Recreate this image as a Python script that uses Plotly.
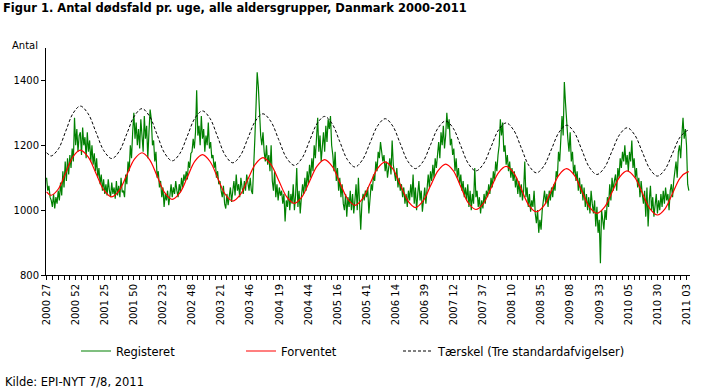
import plotly.graph_objects as go

# Weekly registered deaths, week 2000 27 onwards
registeret = [
    1100, 1060, 1075, 1040, 1030, 1010, 1050, 1005, 1040, 1020,
    1060, 1030, 1085, 1045, 1120, 1070, 1150, 1090, 1160, 1110,
    1170, 1130, 1190, 1150, 1285, 1200, 1250, 1180, 1230, 1240,
    1170, 1255, 1200, 1225, 1160, 1240, 1180, 1215, 1150, 1200,
    1140, 1175, 1120, 1160, 1100, 1130, 1080, 1110, 1060, 1095,
    1050, 1080, 1045, 1095, 1060, 1040, 1085, 1050, 1070, 1035,
    1090, 1045, 1075, 1040, 1100, 1055, 1060, 1040, 1110, 1080,
    1150, 1120, 1200, 1160, 1240, 1300, 1220, 1270, 1200, 1250,
    1190, 1280, 1230, 1180, 1290, 1220, 1260, 1160, 1240, 1310,
    1280, 1200, 1215, 1150, 1180, 1100, 1120, 1070, 1090, 1040,
    1070, 1010, 1050, 1030, 1060, 1015, 1045, 1080, 1040, 1070,
    1050, 1090, 1060, 1040, 1080, 1055, 1100, 1070, 1110, 1090,
    1120, 1095, 1150, 1130, 1175, 1180, 1220, 1190, 1240, 1370,
    1230, 1260, 1200, 1290, 1220, 1250, 1180, 1230, 1200, 1270,
    1190, 1210, 1160, 1170, 1130, 1150, 1100, 1120, 1080, 1090,
    1060, 1040, 1075, 1020, 1005, 1050, 1015, 1040, 1070, 1025,
    1060, 1090, 1045, 1110, 1060, 1080, 1040, 1100, 1070, 1050,
    1090, 1060, 1110, 1080, 1060, 1100, 1060, 1050, 1120, 1220,
    1320, 1425, 1380, 1300, 1230, 1200, 1240, 1180, 1150, 1200,
    1140, 1170, 1120, 1200, 1090, 1060, 1120, 1040, 1080, 1030,
    1070, 1045, 1060, 1020, 1050, 965, 1030, 1010, 1060, 1000,
    1050, 1020, 1080, 1000, 1045, 1130, 1010, 1060, 990, 1040,
    1080, 1050, 1100, 1060, 1120, 1080, 1140, 1100, 1160, 1120,
    1200, 1160, 1250, 1285, 1180, 1230, 1150, 1200, 1240, 1180,
    1260, 1210, 1280, 1250, 1290, 1200, 1170, 1120, 1180, 1090,
    1130, 1060, 1100, 1040, 1080, 1020, 1000, 1050, 980, 1040,
    1010, 1060, 1000, 1050, 990, 1030, 1080, 1000, 1100, 1020,
    940, 1020, 1050, 1030, 1060, 1040, 1070, 990, 1030, 1080,
    1060, 1110, 1090, 1150, 1120, 1180, 1160, 1210, 1180, 1150,
    1170, 1120, 1150, 1100, 1130, 1160, 1110, 1215, 1140, 1120,
    1090, 1130, 1070, 1100, 1060, 1080, 1040, 1070, 1020, 1050,
    1010, 1060, 1030, 1080, 1040, 1110, 1020, 1070, 1000, 1050,
    1090, 1030, 1060, 995, 1040, 1070, 1020, 1080, 1110, 1070,
    1120, 1090, 1140, 1100, 1160, 1130, 1180, 1210, 1160, 1240,
    1200, 1260, 1190, 1230, 1300, 1250, 1280, 1200, 1220, 1170,
    1190, 1120, 1160, 1100, 1130, 1080, 1110, 1060, 1090, 1040,
    1070, 1030, 1080, 1010, 1060, 1000, 1050, 1020, 1130, 1040,
    1060, 1010, 1040, 990, 1030, 1005, 1050, 1020, 1060, 1040,
    1080, 1050, 1100, 1070, 1120, 1090, 1150, 1120, 1170, 1200,
    1280, 1230, 1270, 1180, 1200, 1140, 1170, 1120, 1150, 1100,
    1130, 1090, 1120, 1070, 1100, 1050, 1090, 1040, 1080, 1030,
    1060, 1150, 1040, 1070, 1010, 1050, 995, 1030, 1010, 1060,
    990, 960, 1000, 930, 970, 940, 1000, 1030, 1060, 1020,
    1050, 1010, 1060, 1030, 1070, 1040, 1080, 1060, 1120, 1100,
    1180, 1150, 1240, 1290, 1230, 1395, 1330, 1260, 1220, 1180,
    1240, 1150, 1180, 1110, 1140, 1090, 1120, 1060, 1100, 1050,
    1080, 1030, 1070, 1010, 1050, 1000, 1040, 990, 1060, 1020,
    990, 1030, 950, 1010, 930, 970, 836, 1000, 960, 940,
    1000, 970, 1040, 1010, 1080, 1030, 1100, 1060, 1090, 1110,
    1060, 1130, 1100, 1160, 1130, 1180, 1150, 1200, 1140, 1170,
    1120, 1180, 1150, 1215, 1130, 1160, 1100, 1130, 1070, 1100,
    1040, 1090, 1050, 1020, 1060, 980, 1070, 950, 1030, 1075,
    1000, 1040, 980, 1020, 1050, 990, 1030, 1000, 1050, 1010,
    1060, 1020, 1070, 1030, 1050, 1000, 1060, 1080, 1040, 1090,
    1120, 1150, 1100, 1180, 1200, 1160, 1230, 1285, 1220, 1250,
    1200, 1080, 1060,
]

# Week positions (index from 2000 27) at which the smooth curves were read
kurve_uger = [
    0, 2, 4, 10.25, 16.5, 22.75, 29, 35.75, 42.5, 49.25, 56, 62.5, 69, 75.5,
    82, 88.5, 95, 101.5, 108, 114.5, 121, 127.5, 134, 140.5, 147, 153.5,
    160, 166.5, 173, 179.5, 186, 192.75, 199.5, 206.25, 213, 219.5, 226, 232.5,
    239, 245.5, 252, 258.5, 265, 271.5, 278, 284.5, 291, 297.5, 304, 310.5,
    317, 323.5, 330, 336.5, 343, 349.5, 356, 362.5, 369, 375.5, 382, 388.5,
    395, 401.5, 408, 414.5, 421, 427.5, 434, 440.5, 447, 453.5, 460, 466.5,
    473, 479.5, 486, 492.5, 499, 505.5, 512, 518.5, 525, 531.5, 538, 544.5,
    551, 552,
]

forventet = [
    1056, 1049, 1046, 1066, 1115.5, 1165, 1185, 1164, 1113, 1062, 1041, 1061, 1109, 1157,
    1177, 1156, 1105, 1054, 1033, 1053, 1102, 1151, 1171, 1150, 1099.5, 1049,
    1028, 1048, 1095, 1142, 1162, 1141, 1091.5, 1042, 1021, 1041, 1088.5, 1136,
    1156, 1135, 1085.5, 1036, 1015, 1035, 1082, 1129, 1149, 1128, 1078.5, 1029,
    1008, 1028, 1075, 1122, 1142, 1122, 1072, 1022, 1002, 1021, 1068.5, 1116,
    1135, 1115, 1065, 1015, 995, 1014, 1061.5, 1109, 1128, 1108, 1059, 1010,
    990, 1009, 1055.5, 1102, 1121, 1101, 1053, 1005, 985, 1004, 1051.5, 1099,
    1118, 1118,
]

taerskel = [
    1177, 1171, 1167, 1189.5, 1244, 1298.5, 1321, 1297, 1240, 1183, 1159, 1181.5, 1236, 1290.5,
    1313, 1289.5, 1232.5, 1175.5, 1152, 1174.5, 1229, 1283.5, 1306, 1282.5, 1226, 1169.5,
    1146, 1168, 1221.5, 1275, 1297, 1273.5, 1217.5, 1161, 1138, 1160, 1213.5, 1267,
    1289, 1266, 1211, 1156, 1133, 1155, 1207.5, 1260, 1282, 1259.5, 1205, 1150.5,
    1128, 1149.5, 1201.5, 1253.5, 1275, 1252.5, 1198, 1143.5, 1121, 1142.5, 1195, 1247.5,
    1269, 1246.5, 1192, 1137.5, 1115, 1136.5, 1188.5, 1240.5, 1262, 1240, 1186, 1132,
    1110, 1131, 1182, 1233, 1254, 1232, 1179.5, 1127, 1105, 1125.5, 1175.5, 1225.5,
    1246, 1246,
]

# Tick labels (every 25th week)
uge_etiketter = [
    "2000 27", "2000 52", "2001 25", "2001 50", "2002 23", "2002 48",
    "2003 21", "2003 46", "2004 19", "2004 44", "2005 16", "2005 41",
    "2006 14", "2006 39", "2007 12", "2007 37", "2008 10", "2008 35",
    "2009 08", "2009 33", "2010 05", "2010 30", "2011 03",
]
y_ticks = [800, 1000, 1200, 1400]

FONT = "DejaVu Sans"
n = len(registeret)
uger = list(range(n))

# ticks every 5 weeks, labels every 25 weeks
tickvals, ticktext = [], []
for k, lab in enumerate(uge_etiketter):
    for j in range(5):
        v = k * 25 + j * 5
        if v > (len(uge_etiketter) - 1) * 25:
            break
        tickvals.append(v)
        ticktext.append(lab if j == 0 else "")

fig = go.Figure()
fig.add_trace(go.Scatter(
    x=uger, y=registeret, mode="lines", name="Registeret",
    line=dict(color="#008000", width=1.2), legend="legend",
))
fig.add_trace(go.Scatter(
    x=kurve_uger, y=forventet, mode="lines", name="Forventet",
    line=dict(color="#ff0000", width=1.2, shape="spline"), legend="legend2",
))
fig.add_trace(go.Scatter(
    x=kurve_uger, y=taerskel, mode="lines", name="Tærskel (Tre standardafvigelser)",
    line=dict(color="#000000", width=1, dash="3px,2px", shape="spline"), legend="legend3",
))

W, H = 705, 392
ML, MR, MT, MB = 46, 15, 48, 117
PW, PH = W - ML - MR, H - MT - MB

def px_x(px):
    return (px - ML) / PW

def px_y(py):
    return (H - MB - py) / PH

def lg(px):
    return dict(xref="container", yref="container", x=px / W, y=1 - 351 / H,
                xanchor="left", yanchor="middle", bgcolor="rgba(0,0,0,0)",
                font=dict(family=FONT, size=11.5, color="#000"), borderwidth=0)

fig.update_layout(
    width=W, height=H,
    margin=dict(l=ML, r=MR, t=MT, b=MB, autoexpand=False),
    paper_bgcolor="white", plot_bgcolor="white",
    font=dict(family=FONT, size=10, color="#000"),
    title=dict(text="<b>Figur 1. Antal dødsfald pr. uge, alle aldersgrupper, Danmark 2000-2011</b>",
               xref="container", yref="container", x=3 / W, xanchor="left",
               y=1 - 8 / H, yanchor="middle",
               font=dict(family=FONT, size=11.5, color="#000")),
    showlegend=True,
    legend=lg(76),
    legend2=lg(241),
    legend3=lg(398),
    xaxis=dict(range=[-0.5, n], tickmode="array", tickvals=tickvals, ticktext=ticktext,
               tickangle=-90, ticks="outside", ticklen=4, tickcolor="#000",
               showline=True, linecolor="#000", linewidth=1, showgrid=False,
               zeroline=False, automargin=False, tickfont=dict(family=FONT, size=10)),
    yaxis=dict(range=[800, 1500], tickvals=y_ticks, ticks="outside", ticklen=4,
               tickcolor="#000", showline=True, linecolor="#000", linewidth=1,
               showgrid=False, zeroline=False, automargin=False,
               tickfont=dict(family=FONT, size=10)),
    annotations=[
        dict(text="Antal", xref="paper", yref="paper", x=px_x(10), y=px_y(46),
             xanchor="left", yanchor="middle", showarrow=False,
             font=dict(family=FONT, size=10)),
        dict(text="Kilde: EPI-NYT 7/8, 2011", xref="paper", yref="paper",
             x=px_x(3), y=px_y(382), xanchor="left", yanchor="middle", showarrow=False,
             font=dict(family=FONT, size=11.5)),
    ],
)

fig.write_html("out.html", config={"displayModeBar": False},
               post_script="document.body.style.margin='0px';")
